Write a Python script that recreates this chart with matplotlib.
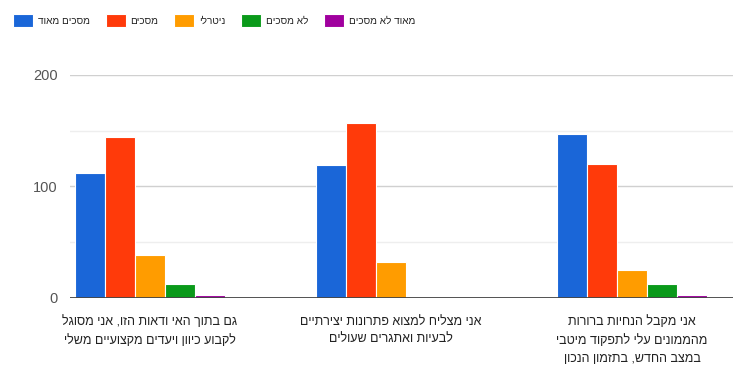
import matplotlib.pyplot as plt
import numpy as np

plt.rcParams['font.family'] = ['Liberation Sans', 'DejaVu Sans']

# data
categories = [
    'גם בתוך האי ודאות הזו, אני מסוגל\nלקבוע כיוון ויעדים מקצועיים משלי',
    'אני מצליח למצוא פתרונות יצירתיים\nלבעיות ואתגרים שעולים',
    'אני מקבל הנחיות ברורות\nמהממונים עלי לתפקוד מיטבי\nבמצב החדש, בתזמון הנכון',
]
series_names = ['מסכים מאוד', 'מסכים', 'ניטרלי', 'לא מסכים', 'מאוד לא מסכים']
strongly_agree = [112, 119, 147]
agree = [144, 157, 120]
neutral = [38, 32, 25]
disagree = [12, 0, 12]
strongly_disagree = [2, 0, 2]
y_ticks = [0, 100, 200]

values = [strongly_agree, agree, neutral, disagree, strongly_disagree]
colors = ['#1a66d8', '#ff3a0a', '#ff9c00', '#0a9a1a', '#a0009e']


def rtl(s):
    # matplotlib has no bidi support, so flip each line for right-to-left display
    return '\n'.join(line[::-1] for line in s.split('\n'))


fig = plt.figure(figsize=(7.33, 3.69), dpi=100)
ax = fig.add_axes([70 / 733, 1 - 297.5 / 369, 1 - 70 / 733, (297.5 - 75) / 369])

x = np.arange(len(categories))
w = 0.1245
for i, (vals, c, name) in enumerate(zip(values, colors, series_names)):
    ax.bar(x + (i - 2) * w, vals, w, color=c, edgecolor='white', linewidth=0.8,
           label=rtl(name), zorder=3)

ax.set_xlim(-80 / 241, (733 - 150) / 241)
ax.set_ylim(0, 200)

# grid lines
for v in [50, 150]:
    ax.axhline(v, color='#eeeeee', linewidth=1, zorder=1)
for v in [100, 200]:
    ax.axhline(v, color='#d0d0d0', linewidth=1, zorder=1)
ax.axhline(0, color='#444444', linewidth=1.3, zorder=4)

ax.set_yticks(y_ticks)
ax.set_yticklabels([str(t) for t in y_ticks], fontsize=10.5, color='#555555')
ax.tick_params(axis='y', length=0, pad=9)

ax.set_xticks(x)
ax.set_xticklabels([rtl(c) for c in categories], fontsize=9, color='#222222',
                   linespacing=1.6)
ax.tick_params(axis='x', length=0, pad=13)

for s in ax.spines.values():
    s.set_visible(False)

fig.legend(loc='upper left', bbox_to_anchor=(13 / 733, 1 - 14 / 369), ncol=5,
           frameon=False, fontsize=7.2, handlelength=2.0, handleheight=1.6,
           handletextpad=0.5, columnspacing=1.55, labelcolor='#222222',
           borderaxespad=0, borderpad=0)

fig.savefig('out.png', dpi=100)
